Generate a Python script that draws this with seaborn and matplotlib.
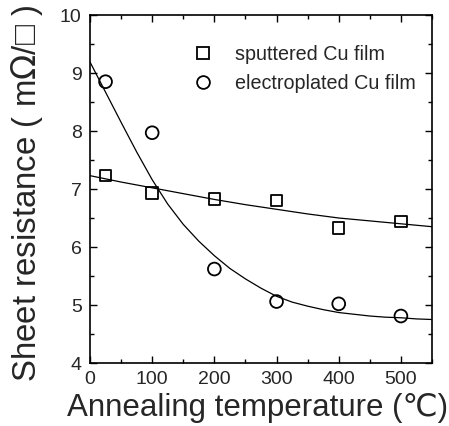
import numpy as np
import pandas as pd
import matplotlib
matplotlib.use('Agg')
import matplotlib.pyplot as plt
import seaborn as sns
from matplotlib.lines import Line2D
from matplotlib.ticker import MultipleLocator

# measured points
temp = [25, 100, 200, 300, 400, 500]
sputtered = [7.23, 6.93, 6.83, 6.80, 6.33, 6.44]
electroplated = [8.85, 7.97, 5.62, 5.06, 5.02, 4.81]

# fitted curves
fit_temp_sp = [0, 50, 100, 150, 200, 250, 300, 350, 400, 450, 500, 550]
fit_sputtered = [7.23, 7.12, 7.02, 6.92, 6.82, 6.73, 6.65, 6.57, 6.50, 6.45, 6.40, 6.35]
fit_temp_ep = [0, 25, 50, 75, 100, 125, 150, 175, 200, 225, 250, 275, 300,
               325, 350, 375, 400, 425, 450, 475, 500, 525, 550]
fit_electroplated = [9.19, 8.67, 8.15, 7.64, 7.16, 6.74, 6.39, 6.10, 5.85, 5.63,
                     5.45, 5.29, 5.15, 5.05, 4.98, 4.92, 4.87, 4.84, 4.81, 4.79,
                     4.78, 4.76, 4.75]

labels = ["sputtered Cu film", "electroplated Cu film"]

sns.set_theme(style="ticks")
plt.rcParams['font.family'] = ['Liberation Sans', 'DejaVu Sans']
plt.rcParams['xtick.direction'] = 'in'
plt.rcParams['ytick.direction'] = 'in'

fig = plt.figure(figsize=(4.49, 4.26), dpi=100)
ax = fig.add_axes([90/449, 1-363/426, 342/449, 348/426])

pts = pd.DataFrame({"T": temp * 2, "R": sputtered + electroplated,
                    "film": [labels[0]] * 6 + [labels[1]] * 6})
fits_sp = pd.DataFrame({"T": fit_temp_sp, "R": fit_sputtered})
fits_ep = pd.DataFrame({"T": fit_temp_ep, "R": fit_electroplated})

sns.lineplot(data=fits_sp, x="T", y="R", ax=ax, color="black", lw=0.9, sort=True)
sns.lineplot(data=fits_ep, x="T", y="R", ax=ax, color="black", lw=0.9, sort=True)

sns.scatterplot(data=pts[pts.film == labels[0]], x="T", y="R", ax=ax, marker="s",
                s=8.2**2, facecolors="none", edgecolor="black", linewidth=1.3, zorder=3)
sns.scatterplot(data=pts[pts.film == labels[1]], x="T", y="R", ax=ax, marker="o",
                s=9.2**2, facecolors="none", edgecolor="black", linewidth=1.3, zorder=3)

ax.set_xlim(0, 550)
ax.set_ylim(4, 10)
ax.xaxis.set_major_locator(MultipleLocator(100))
ax.xaxis.set_minor_locator(MultipleLocator(50))
ax.yaxis.set_major_locator(MultipleLocator(1))
ax.yaxis.set_minor_locator(MultipleLocator(0.5))
ax.tick_params(which='both', top=True, right=True, direction='in', width=1.0, color='black')
ax.tick_params(which='major', length=5, labelsize=14, pad=6)
ax.tick_params(which='minor', length=3)
for s in ax.spines.values():
    s.set_linewidth(1.2)
    s.set_color('black')

ax.set_xlabel("Annealing temperature (℃)", fontsize=22.5)
ax.xaxis.set_label_coords(0.49, -0.087)
ax.set_ylabel("Sheet resistance ( m$\\Omega$/□ )", fontsize=23.8)
ax.yaxis.set_label_coords(-0.132, 0.487)

handles = [Line2D([], [], ls='none', marker='s', ms=8.2, mfc='none', mec='black', mew=1.3),
           Line2D([], [], ls='none', marker='o', ms=9.2, mfc='none', mec='black', mew=1.3)]
ax.legend(handles, labels, loc='upper left', bbox_to_anchor=(0.3015, 0.915),
          frameon=False, fontsize=14.2, handlelength=1.0, handletextpad=1.12,
          borderpad=0, borderaxespad=0, labelspacing=0.53)

fig.savefig("out.png", dpi=100)
